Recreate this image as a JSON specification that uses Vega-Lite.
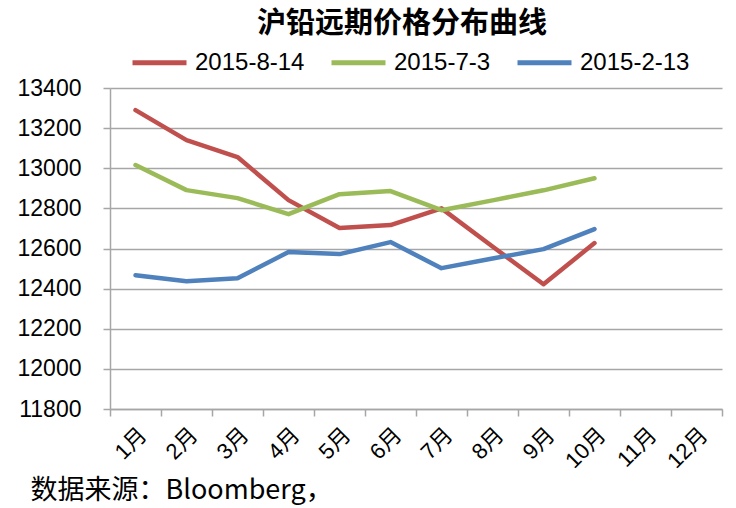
{
  "$schema": "https://vega.github.io/schema/vega-lite/v6.json",
  "width": 612,
  "height": 321,
  "autosize": {"type": "none"},
  "padding": {"left": 110, "top": 88, "right": 14, "bottom": 99},
  "background": "white",
  "title": {
    "text": "沪铅远期价格分布曲线",
    "font": "Noto Sans CJK SC",
    "fontSize": 29,
    "fontWeight": "bold",
    "color": "black",
    "anchor": "middle",
    "dx": -14,
    "offset": -6
  },
  "config": {
    "view": {"stroke": null},
    "font": "Liberation Sans"
  },
  "data": {
    "values": [
      {"month": "1月", "series": "2015-8-14", "price": 13290},
      {"month": "2月", "series": "2015-8-14", "price": 13140},
      {"month": "3月", "series": "2015-8-14", "price": 13056},
      {"month": "4月", "series": "2015-8-14", "price": 12841},
      {"month": "5月", "series": "2015-8-14", "price": 12702},
      {"month": "6月", "series": "2015-8-14", "price": 12717},
      {"month": "7月", "series": "2015-8-14", "price": 12800},
      {"month": "8月", "series": "2015-8-14", "price": 12610},
      {"month": "9月", "series": "2015-8-14", "price": 12422},
      {"month": "10月", "series": "2015-8-14", "price": 12627},
      {"month": "1月", "series": "2015-7-3", "price": 13016},
      {"month": "2月", "series": "2015-7-3", "price": 12891},
      {"month": "3月", "series": "2015-7-3", "price": 12851},
      {"month": "4月", "series": "2015-7-3", "price": 12771},
      {"month": "5月", "series": "2015-7-3", "price": 12871},
      {"month": "6月", "series": "2015-7-3", "price": 12886},
      {"month": "7月", "series": "2015-7-3", "price": 12791},
      {"month": "8月", "series": "2015-7-3", "price": 12840},
      {"month": "9月", "series": "2015-7-3", "price": 12890},
      {"month": "10月", "series": "2015-7-3", "price": 12950},
      {"month": "1月", "series": "2015-2-13", "price": 12467},
      {"month": "2月", "series": "2015-2-13", "price": 12437},
      {"month": "3月", "series": "2015-2-13", "price": 12452},
      {"month": "4月", "series": "2015-2-13", "price": 12582},
      {"month": "5月", "series": "2015-2-13", "price": 12572},
      {"month": "6月", "series": "2015-2-13", "price": 12632},
      {"month": "7月", "series": "2015-2-13", "price": 12502},
      {"month": "8月", "series": "2015-2-13", "price": 12550},
      {"month": "9月", "series": "2015-2-13", "price": 12597},
      {"month": "10月", "series": "2015-2-13", "price": 12697}
    ]
  },
  "mark": {"type": "line", "strokeWidth": 4.5, "strokeCap": "round", "strokeJoin": "round"},
  "encoding": {
    "x": {
      "field": "month",
      "type": "nominal",
      "sort": ["1月","2月","3月","4月","5月","6月","7月","8月","9月","10月","11月","12月"],
      "scale": {"type": "band", "domain": ["1月","2月","3月","4月","5月","6月","7月","8月","9月","10月","11月","12月"], "paddingInner": 0, "paddingOuter": 0},
      "axis": {
        "title": "数据来源：Bloomberg，",
        "titleFont": "Noto Sans CJK SC, Liberation Sans",
        "titleFontSize": 27,
        "titleFontWeight": "normal",
        "titleColor": "black",
        "titleAnchor": "start",
        "titleAlign": "left",
        "titleBaseline": "middle",
        "titleX": -80,
        "titleY": 81,
        "labelAngle": -45,
        "labelFont": "Liberation Sans, Noto Sans CJK SC",
        "labelFontSize": 22,
        "labelColor": "black",
        "labelPadding": 8,
        "tickBand": "extent",
        "tickSize": 7,
        "tickColor": "#a6a6a6",
        "domainColor": "#a6a6a6",
        "domainWidth": 1.5,
        "tickWidth": 1.5,
        "grid": false
      }
    },
    "y": {
      "field": "price",
      "type": "quantitative",
      "scale": {"domain": [11800, 13400], "nice": false, "zero": false},
      "axis": {
        "title": null,
        "values": [11800, 12000, 12200, 12400, 12600, 12800, 13000, 13200, 13400],
        "format": "d",
        "labelFont": "Liberation Sans",
        "labelFontSize": 23,
        "labelColor": "black",
        "labelPadding": 22,
        "tickSize": 7,
        "tickWidth": 1.5,
        "tickColor": "#a6a6a6",
        "domainColor": "#a6a6a6",
        "domainWidth": 1.5,
        "grid": true,
        "gridColor": "#a6a6a6",
        "gridWidth": 1.5
      }
    },
    "color": {
      "field": "series",
      "type": "nominal",
      "sort": ["2015-8-14", "2015-7-3", "2015-2-13"],
      "scale": {"domain": ["2015-8-14", "2015-7-3", "2015-2-13"], "range": ["#C0504D", "#9BBB59", "#4F81BD"]},
      "legend": {
        "title": null,
        "orient": "none",
        "direction": "horizontal",
        "legendX": 20,
        "legendY": -55,
        "symbolType": "stroke",
        "symbolSize": 2916,
        "symbolStrokeWidth": 5,
        "labelFont": "Liberation Sans",
        "labelFontSize": 24,
        "labelColor": "black",
        "columnPadding": 16,
        "labelOffset": 6
      }
    }
  }
}
